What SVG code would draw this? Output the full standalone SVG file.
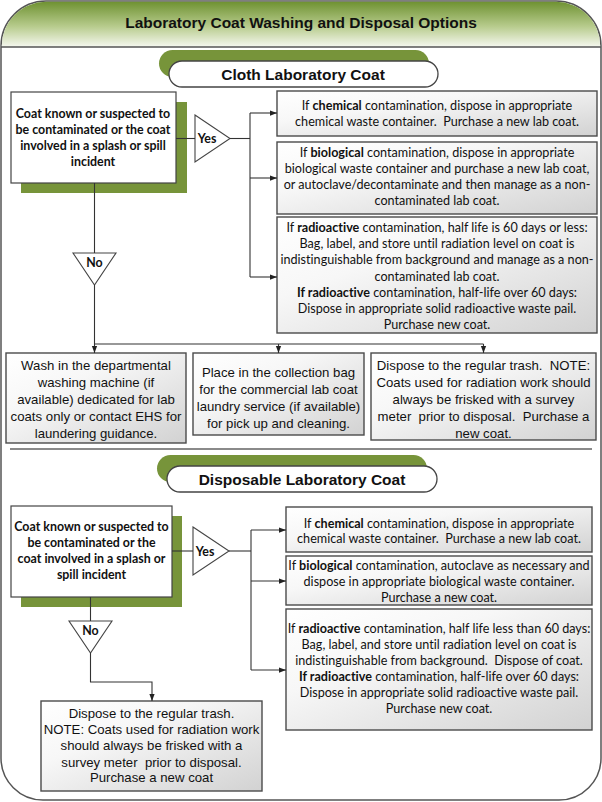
<svg xmlns="http://www.w3.org/2000/svg" width="602" height="802" viewBox="0 0 602 802">
<defs>
<linearGradient id="hdr" x1="0" y1="0" x2="0" y2="1">
<stop offset="0" stop-color="#6f9232"/>
<stop offset="0.55" stop-color="#b8cc8e"/>
<stop offset="1" stop-color="#f6f8f0"/>
</linearGradient>
<linearGradient id="box" x1="0" y1="0" x2="1" y2="1">
<stop offset="0" stop-color="#ffffff"/>
<stop offset="0.35" stop-color="#f7f7f7"/>
<stop offset="1" stop-color="#d2d2d2"/>
</linearGradient>
<marker id="ah" viewBox="0 0 8 8" refX="8" refY="4" markerWidth="7" markerHeight="7" markerUnits="userSpaceOnUse" orient="auto">
<path d="M0,1 L8,4 L0,7 Z" fill="#222"/>
</marker>
<style>
.frame{fill:#fff;stroke:#555;stroke-width:1.5}
.tab{fill:#77943a}
.pill{fill:#fff;stroke:#444;stroke-width:1.3}
.h{font-family:"Liberation Sans",Arial,sans-serif;font-weight:bold;font-size:15.5px;fill:#111;text-anchor:middle}
.lb{fill:#fff;stroke:#444;stroke-width:1.2}
.sh{fill:#77943a}
.gb{fill:url(#box);stroke:#4a4a4a;stroke-width:1.4}
.c{font-family:Lato,"Open Sans",sans-serif;font-size:12.6px;fill:#111;text-anchor:middle;white-space:pre;font-variant-ligatures:none}
.cb{font-family:Lato,"Open Sans",sans-serif;font-size:12.4px;font-weight:bold;fill:#111;text-anchor:middle;font-variant-ligatures:none}
.a{font-family:"Liberation Sans",Arial,sans-serif;font-size:13.2px;fill:#111;text-anchor:middle;white-space:pre}
.b{font-weight:bold}
.ln{fill:none;stroke:#333;stroke-width:1.1}
.tri{fill:#fff;stroke:#444;stroke-width:1.1}
</style>
</defs>

<g id="frame">
<path class="frame" d="M1,46 A45,45 0 0 1 46,1 H556 A45,45 0 0 1 601,46 V758 A42,42 0 0 1 559,800 H43 A42,42 0 0 1 1,758 Z"/>
<path d="M1.8,47 V46 A44.2,44.2 0 0 1 46,1.8 H556 A44.2,44.2 0 0 1 600.2,46 V47 Z" fill="url(#hdr)"/>
<line x1="1" y1="47" x2="601" y2="47" stroke="#555" stroke-width="1.5"/>
<text class="h" x="301" y="28">Laboratory Coat Washing and Disposal Options</text>
<line x1="10" y1="449" x2="592" y2="449" stroke="#8a8a8a" stroke-width="2"/>
</g>

<g id="cloth-title">
<rect class="tab" x="159" y="50" width="270" height="27" rx="13.5"/>
<rect class="pill" x="169" y="61" width="269" height="26" rx="13"/>
<text class="h" x="303" y="79.5">Cloth Laboratory Coat</text>
</g>

<g id="cloth-question">
<rect class="sh" x="21" y="102" width="166" height="91"/>
<rect class="lb" x="11" y="92" width="165" height="91"/>
<text class="cb" x="93" y="118">Coat known or suspected to</text>
<text class="cb" x="93" y="134">be contaminated or the coat</text>
<text class="cb" x="93" y="150">involved in a splash or spill</text>
<text class="cb" x="93" y="166">incident</text>
</g>

<g id="cloth-yes">
<polygon class="tri" points="195,115 230,138.5 195,162"/>
<text class="cb" x="207" y="143">Yes</text>
</g>
<g id="cloth-no">
<polygon class="tri" points="73,253 116,253 94.5,285"/>
<text class="cb" x="94.5" y="267">No</text>
</g>

<g id="cloth-chemical">
<rect class="gb" x="277" y="91" width="320" height="45"/>
<text class="c" x="437" y="110">If <tspan class="b">chemical</tspan> contamination, dispose in appropriate</text>
<text class="c" x="437" y="126">chemical waste container.  Purchase a new lab coat.</text>
</g>

<g id="cloth-biological">
<rect class="gb" x="277" y="142" width="320" height="72"/>
<text class="c" x="437" y="157">If <tspan class="b">biological</tspan> contamination, dispose in appropriate</text>
<text class="c" x="437" y="173">biological waste container and purchase a new lab coat,</text>
<text class="c" x="437" y="189">or autoclave/decontaminate and then manage as a non-</text>
<text class="c" x="437" y="205">contaminated lab coat.</text>
</g>

<g id="cloth-radioactive">
<rect class="gb" x="277" y="217" width="320" height="116"/>
<text class="c" x="437" y="232">If <tspan class="b">radioactive</tspan> contamination, half life is 60 days or less:</text>
<text class="c" x="437" y="248">Bag, label, and store until radiation level on coat is</text>
<text class="c" x="437" y="264">indistinguishable from background and manage as a non-</text>
<text class="c" x="437" y="281">contaminated lab coat.</text>
<text class="c" x="437" y="297"><tspan class="b">If radioactive</tspan> contamination, half-life over 60 days:</text>
<text class="c" x="437" y="313">Dispose in appropriate solid radioactive waste pail.</text>
<text class="c" x="437" y="329">Purchase new coat.</text>
</g>

<g id="cloth-wash">
<rect class="gb" x="6" y="353" width="180" height="90"/>
<text class="a" x="96" y="370">Wash in the departmental</text>
<text class="a" x="96" y="387">washing machine (if</text>
<text class="a" x="96" y="404">available) dedicated for lab</text>
<text class="a" x="96" y="421">coats only or contact EHS for</text>
<text class="a" x="96" y="438">laundering guidance.</text>
</g>

<g id="cloth-laundry">
<rect class="gb" x="193" y="353" width="171" height="82"/>
<text class="a" x="278.5" y="377">Place in the collection bag</text>
<text class="a" x="278.5" y="394">for the commercial lab coat</text>
<text class="a" x="278.5" y="411">laundry service (if available)</text>
<text class="a" x="278.5" y="428">for pick up and cleaning.</text>
</g>

<g id="cloth-trash">
<rect class="gb" x="371" y="353" width="225" height="87"/>
<text class="a" x="483.5" y="370">Dispose to the regular trash.  NOTE:</text>
<text class="a" x="483.5" y="387">Coats used for radiation work should</text>
<text class="a" x="483.5" y="404">always be frisked with a survey</text>
<text class="a" x="483.5" y="421">meter  prior to disposal.  Purchase a</text>
<text class="a" x="483.5" y="438">new coat.</text>
</g>

<g id="disp-title">
<rect class="tab" x="157" y="455" width="270" height="27" rx="13.5"/>
<rect class="pill" x="167" y="466" width="270" height="26" rx="13"/>
<text class="h" x="302" y="484.5">Disposable Laboratory Coat</text>
</g>

<g id="disp-question">
<rect class="sh" x="21" y="516" width="161" height="91"/>
<rect class="lb" x="11" y="506" width="161" height="91"/>
<text class="cb" x="91.5" y="531">Coat known or suspected to</text>
<text class="cb" x="91.5" y="547">be contaminated or the</text>
<text class="cb" x="91.5" y="563">coat involved in a splash or</text>
<text class="cb" x="91.5" y="579">spill incident</text>
</g>

<g id="disp-yes">
<polygon class="tri" points="193,527 229,551 193,575"/>
<text class="cb" x="205" y="556">Yes</text>
</g>
<g id="disp-no">
<polygon class="tri" points="69,621 112,621 90.5,653"/>
<text class="cb" x="90.5" y="635">No</text>
</g>

<g id="disp-chemical">
<rect class="gb" x="286" y="507" width="306" height="45"/>
<text class="c" x="439" y="528">If <tspan class="b">chemical</tspan> contamination, dispose in appropriate</text>
<text class="c" x="439" y="543">chemical waste container.  Purchase a new lab coat.</text>
</g>

<g id="disp-biological">
<rect class="gb" x="286" y="556" width="306" height="49"/>
<text class="c" x="439" y="570">If <tspan class="b">biological</tspan> contamination, autoclave as necessary and</text>
<text class="c" x="439" y="586">dispose in appropriate biological waste container.</text>
<text class="c" x="439" y="602">Purchase a new coat.</text>
</g>

<g id="disp-radioactive">
<rect class="gb" x="286" y="609" width="306" height="121"/>
<text class="c" x="439" y="633">If <tspan class="b">radioactive</tspan> contamination, half life less than 60 days:</text>
<text class="c" x="439" y="649">Bag, label, and store until radiation level on coat is</text>
<text class="c" x="439" y="665">indistinguishable from background.  Dispose of coat.</text>
<text class="c" x="439" y="681"><tspan class="b">If radioactive</tspan> contamination, half-life over 60 days:</text>
<text class="c" x="439" y="697">Dispose in appropriate solid radioactive waste pail.</text>
<text class="c" x="439" y="713">Purchase new coat.</text>
</g>

<g id="disp-trash">
<rect class="gb" x="41" y="701" width="221" height="90"/>
<text class="a" x="151.5" y="718">Dispose to the regular trash.</text>
<text class="a" x="151.5" y="734">NOTE: Coats used for radiation work</text>
<text class="a" x="151.5" y="750">should always be frisked with a</text>
<text class="a" x="151.5" y="767">survey meter  prior to disposal.</text>
<text class="a" x="151.5" y="782">Purchase a new coat</text>
</g>

<g id="connectors">
<line class="ln" x1="176" y1="138.5" x2="195" y2="138.5"/>
<polyline class="ln" points="230,138.5 250,138.5"/>
<line class="ln" x1="250" y1="113" x2="250" y2="277"/>
<line class="ln" x1="250" y1="113" x2="277" y2="113" marker-end="url(#ah)"/>
<line class="ln" x1="250" y1="178" x2="277" y2="178" marker-end="url(#ah)"/>
<line class="ln" x1="250" y1="277" x2="277" y2="277" marker-end="url(#ah)"/>
<line class="ln" x1="94.5" y1="183" x2="94.5" y2="253"/>
<line class="ln" x1="94.5" y1="285" x2="94.5" y2="353" marker-end="url(#ah)"/>
<line class="ln" x1="94.5" y1="344" x2="483.5" y2="344"/>
<line class="ln" x1="278.5" y1="344" x2="278.5" y2="353" marker-end="url(#ah)"/>
<line class="ln" x1="483.5" y1="344" x2="483.5" y2="353" marker-end="url(#ah)"/>
<line class="ln" x1="172" y1="551" x2="193" y2="551"/>
<line class="ln" x1="229" y1="551" x2="251" y2="551"/>
<line class="ln" x1="251" y1="530" x2="251" y2="670"/>
<line class="ln" x1="251" y1="530" x2="286" y2="530" marker-end="url(#ah)"/>
<line class="ln" x1="251" y1="581" x2="286" y2="581" marker-end="url(#ah)"/>
<line class="ln" x1="251" y1="670" x2="286" y2="670" marker-end="url(#ah)"/>
<line class="ln" x1="90.5" y1="597" x2="90.5" y2="621"/>
<polyline class="ln" points="90.5,653 90.5,682 152,682 152,701" marker-end="url(#ah)"/>
</g>
</svg>
